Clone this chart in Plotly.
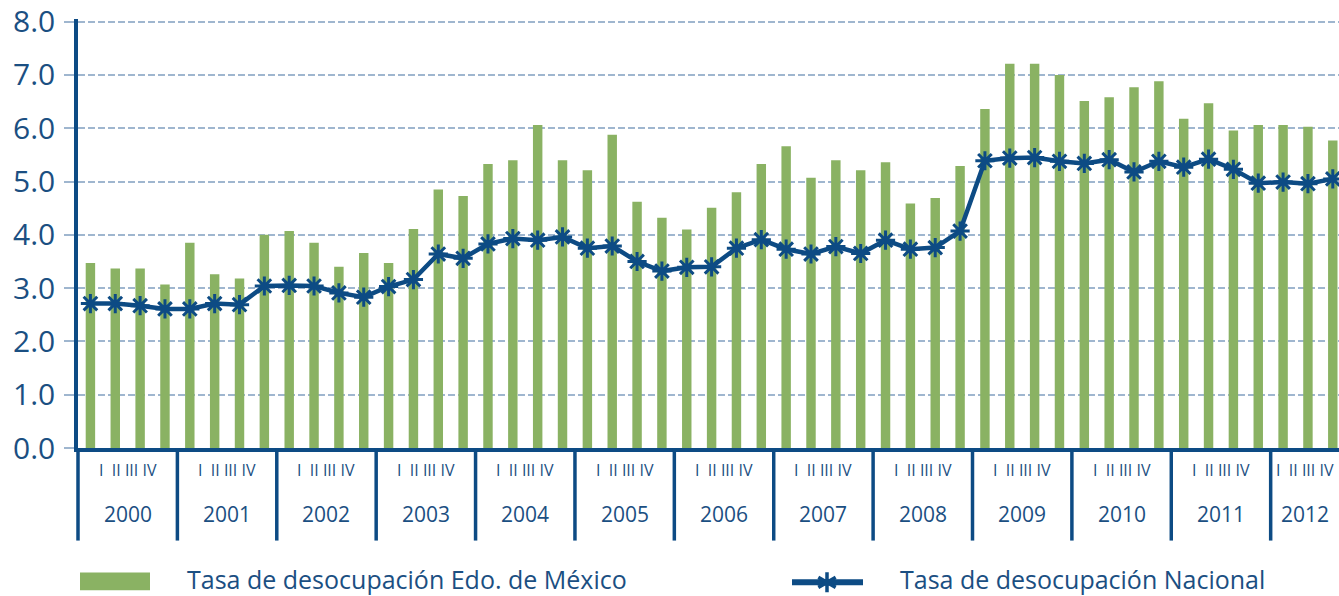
import plotly.graph_objects as go

years = ["2000", "2001", "2002", "2003", "2004", "2005", "2006",
         "2007", "2008", "2009", "2010", "2011", "2012"]
quarter_label = "I  II III IV"

# Tasa de desocupación Edo. de México (quarterly, 2000-I .. 2012-III)
edomex = [3.47, 3.37, 3.37, 3.07,
          3.85, 3.26, 3.18, 4.00,
          4.07, 3.85, 3.40, 3.66,
          3.47, 4.11, 4.85, 4.73,
          5.33, 5.40, 6.06, 5.40,
          5.21, 5.88, 4.62, 4.32,
          4.10, 4.51, 4.80, 5.33,
          5.66, 5.07, 5.40, 5.21,
          5.36, 4.59, 4.69, 5.29,
          6.36, 7.21, 7.21, 7.00,
          6.51, 6.58, 6.77, 6.88,
          6.18, 6.47, 5.96, 6.06,
          6.06, 6.03, 5.77]

# Tasa de desocupación Nacional
nacional = [2.71, 2.71, 2.67, 2.61,
            2.61, 2.71, 2.69, 3.04,
            3.05, 3.04, 2.91, 2.83,
            3.03, 3.16, 3.64, 3.56,
            3.83, 3.93, 3.90, 3.96,
            3.75, 3.79, 3.50, 3.32,
            3.39, 3.40, 3.75, 3.91,
            3.73, 3.64, 3.78, 3.65,
            3.90, 3.73, 3.76, 4.07,
            5.39, 5.44, 5.45, 5.38,
            5.34, 5.41, 5.18, 5.38,
            5.27, 5.42, 5.23, 4.97,
            4.99, 4.96, 5.05]

y_ticks = [0, 1, 2, 3, 4, 5, 6, 7, 8]

name_bar = "Tasa de desocupación Edo. de México"
name_line = "Tasa de desocupación Nacional"

DARK = "#0d4b84"
TEXT = "#1b4f82"
GRID = "#9fb6cf"
GREEN = "#8ab263"
FONT = "Open Sans"

x_idx = list(range(len(edomex)))
X_MIN, X_MAX = -0.5, 50.25

fig = go.Figure()
fig.add_trace(go.Bar(x=x_idx, y=edomex, name=name_bar,
                     marker=dict(color=GREEN, line=dict(width=0)),
                     width=0.38, showlegend=False))
fig.add_trace(go.Scatter(x=x_idx, y=nacional, name=name_line, mode="lines+markers",
                         line=dict(color=DARK, width=4.5),
                         marker=dict(symbol="asterisk-open", size=16,
                                     line=dict(color=DARK, width=3), color=DARK),
                         showlegend=False))

shapes = []
annotations = []
# plot area geometry in px (for paper conversions of decorations only)
L, R, T, B, W, H = 78, 0, 17, 148, 1339, 596
pw, ph = W - L - R, H - T - B


def py(px_y):
    return (H - B - px_y) / ph


def px(px_x):
    return (px_x - L) / pw


div_bottom = py(541)
for i, yr in enumerate(years):
    start = 4 * i - 0.5
    end = min(4 * i + 3.5, X_MAX)
    if i == 0:
        shapes.append(dict(type="line", xref="paper", yref="paper", x0=0, x1=0,
                           y0=0, y1=div_bottom, line=dict(color=DARK, width=3.5)))
    else:
        shapes.append(dict(type="line", xref="x", yref="paper", x0=start, x1=start,
                           y0=0, y1=div_bottom, line=dict(color=DARK, width=3.5)))
    center = (start + end) / 2
    annotations.append(dict(x=center, y=py(470), xref="x", yref="paper",
                            text=quarter_label, showarrow=False, xanchor="center",
                            yanchor="middle", font=dict(family=FONT, size=16, color=TEXT)))
    annotations.append(dict(x=center, y=py(514), xref="x", yref="paper",
                            text=yr, showarrow=False, xanchor="center",
                            yanchor="middle", font=dict(family=FONT, size=21, color=TEXT)))

# legend (drawn manually)
shapes.append(dict(type="rect", xref="paper", yref="paper", x0=px(80), x1=px(150),
                   y0=py(591), y1=py(573), fillcolor=GREEN, line=dict(width=0)))
annotations.append(dict(x=px(185), y=py(580), xref="paper", yref="paper", text=name_bar,
                        showarrow=False, xanchor="left", yanchor="middle",
                        font=dict(family=FONT, size=25, color=TEXT)))
shapes.append(dict(type="line", xref="paper", yref="paper", x0=px(792), x1=px(863),
                   y0=py(583), y1=py(583), line=dict(color=DARK, width=6)))
shapes.append(dict(type="path", xref="paper", yref="paper", xsizemode="pixel", ysizemode="pixel",
                   xanchor=px(827), yanchor=py(583),
                   path="M0,-10 L0,10 M-8.7,-5 L8.7,5 M-8.7,5 L8.7,-5",
                   line=dict(color=DARK, width=3.5)))
annotations.append(dict(x=px(898), y=py(580), xref="paper", yref="paper", text=name_line,
                        showarrow=False, xanchor="left", yanchor="middle",
                        font=dict(family=FONT, size=25, color=TEXT)))

fig.update_layout(
    width=W, height=H,
    margin=dict(l=L, r=R, t=T, b=B, pad=0),
    paper_bgcolor="white", plot_bgcolor="white",
    bargap=0.6,
    xaxis=dict(range=[X_MIN, X_MAX], showticklabels=False, ticks="", showgrid=False,
               zeroline=False, showline=True, linecolor=DARK, linewidth=3.5,
               fixedrange=True),
    yaxis=dict(range=[0, 8.05], tickvals=y_ticks, tickformat=".1f",
               tickfont=dict(family=FONT, size=30, color=TEXT),
               showgrid=True, gridcolor=GRID, gridwidth=1.8, griddash="7px,3px",
               zeroline=False, showline=True, linecolor=DARK, linewidth=3.5,
               ticks="outside", ticklen=10, tickcolor=GRID, tickwidth=1.8,
               ticklabelstandoff=3, ticklabeloverflow="allow"),
    shapes=shapes,
    annotations=annotations,
)

fig.write_html("out.html", config={"displayModeBar": False},
               post_script="document.body.style.margin='0';document.body.style.overflow='hidden';")
